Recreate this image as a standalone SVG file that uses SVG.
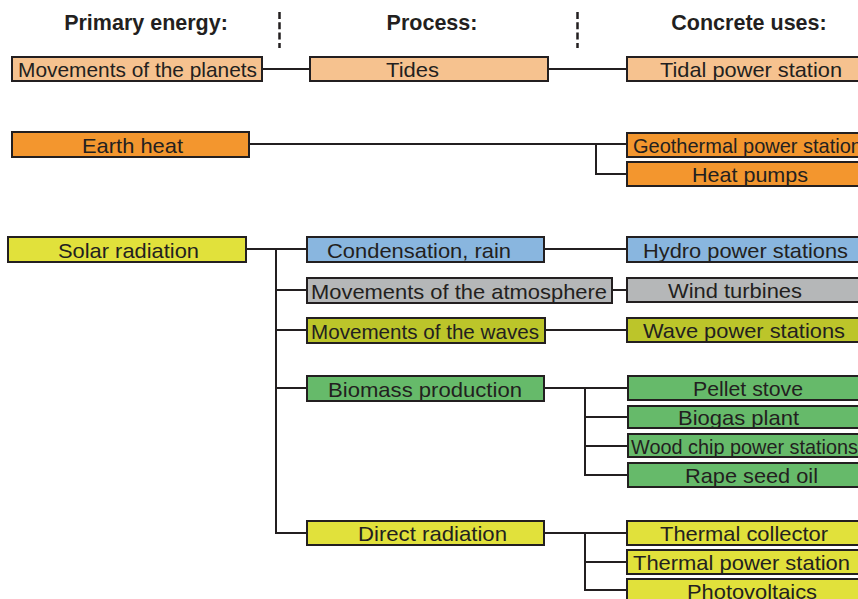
<svg xmlns="http://www.w3.org/2000/svg" width="858" height="599" viewBox="0 0 858 599">
<style>
.b{stroke:#231F20;stroke-width:2}
.t{font-family:"Liberation Sans",Arial,sans-serif;font-size:21px;fill:#231F20}
.h{font-family:"Liberation Sans",Arial,sans-serif;font-size:21.5px;font-weight:bold;fill:#231F20;text-anchor:middle}
.c{fill:none;stroke:#231F20;stroke-width:2}
.d{stroke:#231F20;stroke-width:2.5;stroke-dasharray:7 3.3}
.lo{fill:#F6C28F}.or{fill:#F3962E}.ye{fill:#E1E13B}.bl{fill:#89B6DF}.gr{fill:#B5B7B8}.ol{fill:#BCC52A}.gn{fill:#66BA6A}
</style>
<rect width="858" height="599" fill="#fff"/>
<g id="headers">
<text class="h" x="146" y="30">Primary energy:</text>
<text class="h" x="432" y="30">Process:</text>
<text class="h" x="749" y="30">Concrete uses:</text>
<line class="d" x1="279.5" y1="12" x2="279.5" y2="48"/>
<line class="d" x1="577.5" y1="12" x2="577.5" y2="48"/>
</g>
<g id="connectors">
<path class="c" d="M262,69H310M548,69H627"/>
<path class="c" d="M249,144H627M596,144V174H627"/>
<path class="c" d="M246,249H307M276,249V533H307M276,290H307M276,330H307M276,388H307"/>
<path class="c" d="M544,249H627M612,290H627M545,330H627"/>
<path class="c" d="M544,388H628M585,388V475H628M585,417H628M585,446H628"/>
<path class="c" d="M544,533H627M585,533V590H627M585,562H627"/>
</g>
<g id="planets"><rect class="b lo" x="12" y="57" width="250" height="24"/><text class="t" x="18" y="77" textLength="239" lengthAdjust="spacingAndGlyphs">Movements of the planets</text></g>
<g id="tides"><rect class="b lo" x="310" y="57" width="238" height="24"/><text class="t" x="386" y="77" textLength="53" lengthAdjust="spacingAndGlyphs">Tides</text></g>
<g id="tidal"><rect class="b lo" x="627" y="57" width="240" height="24"/><text class="t" x="660" y="77" textLength="182" lengthAdjust="spacingAndGlyphs">Tidal power station</text></g>
<g id="earthheat"><rect class="b or" x="12" y="132" width="237" height="25"/><text class="t" x="82" y="152.5" textLength="101" lengthAdjust="spacingAndGlyphs">Earth heat</text></g>
<g id="geothermal"><rect class="b or" x="627" y="133" width="240" height="24"/><text class="t" x="633" y="153" textLength="229" lengthAdjust="spacingAndGlyphs">Geothermal power station</text></g>
<g id="heatpumps"><rect class="b or" x="627" y="162" width="240" height="24"/><text class="t" x="692" y="182" textLength="116" lengthAdjust="spacingAndGlyphs">Heat pumps</text></g>
<g id="solar"><rect class="b ye" x="8" y="237" width="238" height="25"/><text class="t" x="58" y="257.5" textLength="141" lengthAdjust="spacingAndGlyphs">Solar radiation</text></g>
<g id="condensation"><rect class="b bl" x="307" y="237" width="237" height="25"/><text class="t" x="327" y="257.5" textLength="184" lengthAdjust="spacingAndGlyphs">Condensation, rain</text></g>
<g id="hydro"><rect class="b bl" x="627" y="237" width="240" height="25"/><text class="t" x="643" y="257.5" textLength="205" lengthAdjust="spacingAndGlyphs">Hydro power stations</text></g>
<g id="atmosphere"><rect class="b gr" x="307" y="278" width="305" height="25"/><text class="t" x="311" y="298.5" textLength="296" lengthAdjust="spacingAndGlyphs">Movements of the atmosphere</text></g>
<g id="wind"><rect class="b gr" x="627" y="278" width="240" height="24"/><text class="t" x="668" y="298" textLength="134" lengthAdjust="spacingAndGlyphs">Wind turbines</text></g>
<g id="waves"><rect class="b ol" x="307" y="318" width="238" height="25"/><text class="t" x="311" y="338.5" textLength="228" lengthAdjust="spacingAndGlyphs">Movements of the waves</text></g>
<g id="wavepower"><rect class="b ol" x="627" y="318" width="240" height="24"/><text class="t" x="643" y="338" textLength="202" lengthAdjust="spacingAndGlyphs">Wave power stations</text></g>
<g id="biomass"><rect class="b gn" x="307" y="376" width="237" height="25"/><text class="t" x="328" y="396.5" textLength="194" lengthAdjust="spacingAndGlyphs">Biomass production</text></g>
<g id="pellet"><rect class="b gn" x="628" y="376" width="240" height="24"/><text class="t" x="693" y="396" textLength="110" lengthAdjust="spacingAndGlyphs">Pellet stove</text></g>
<g id="biogas"><rect class="b gn" x="628" y="406" width="240" height="22"/><text class="t" x="678" y="425" textLength="121" lengthAdjust="spacingAndGlyphs">Biogas plant</text></g>
<g id="woodchip"><rect class="b gn" x="628" y="434" width="240" height="23"/><text class="t" x="631" y="453.5" textLength="227" lengthAdjust="spacingAndGlyphs">Wood chip power stations</text></g>
<g id="rapeseed"><rect class="b gn" x="628" y="463" width="240" height="24"/><text class="t" x="685" y="483" textLength="133" lengthAdjust="spacingAndGlyphs">Rape seed oil</text></g>
<g id="direct"><rect class="b ye" x="307" y="521" width="237" height="24"/><text class="t" x="358" y="541" textLength="149" lengthAdjust="spacingAndGlyphs">Direct radiation</text></g>
<g id="collector"><rect class="b ye" x="627" y="521" width="240" height="24"/><text class="t" x="660" y="541" textLength="168" lengthAdjust="spacingAndGlyphs">Thermal collector</text></g>
<g id="thermalpower"><rect class="b ye" x="627" y="550" width="240" height="24"/><text class="t" x="633" y="570" textLength="217" lengthAdjust="spacingAndGlyphs">Thermal power station</text></g>
<g id="pv"><rect class="b ye" x="627" y="579" width="240" height="24"/><text class="t" x="687" y="599" textLength="130" lengthAdjust="spacingAndGlyphs">Photovoltaics</text></g>
</svg>
